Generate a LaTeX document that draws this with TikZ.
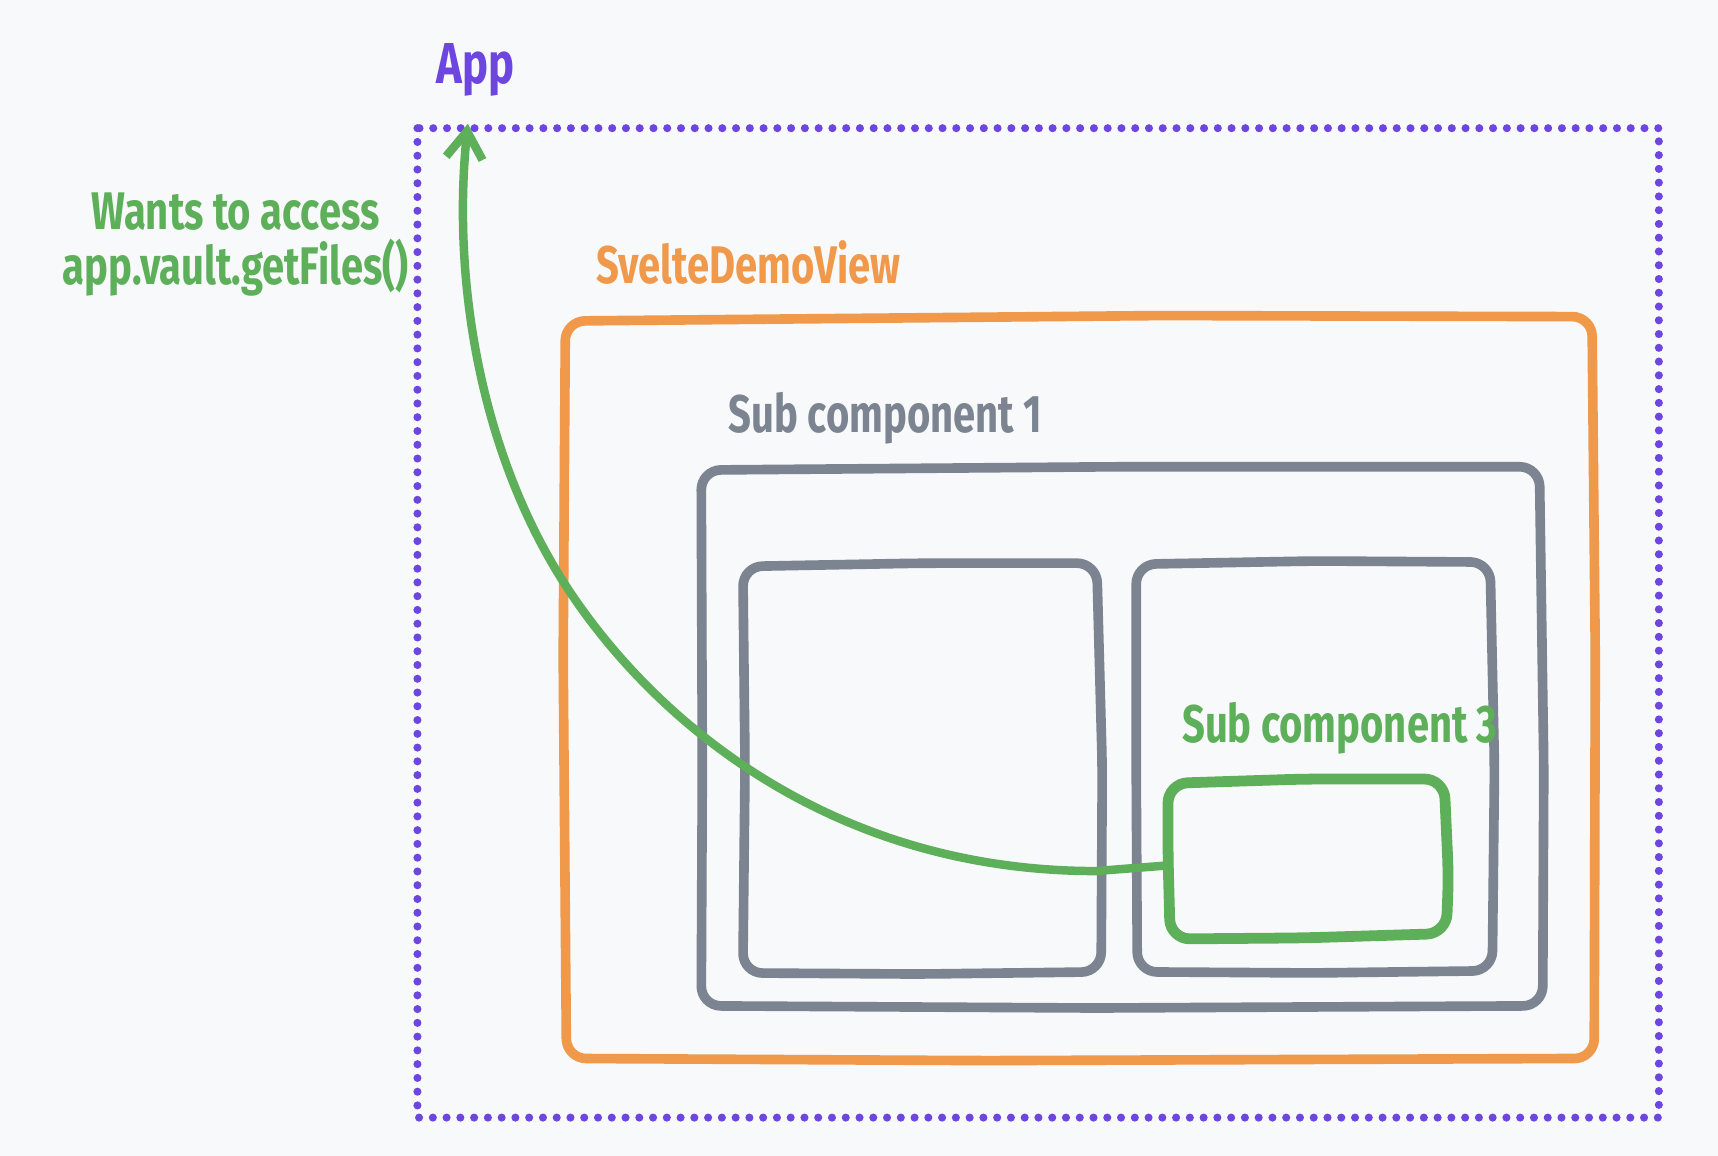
\documentclass[tikz,border=0pt]{standalone}
\usepackage{fontspec}
\setmainfont{Fira Sans}[FakeStretch=0.755]
\usetikzlibrary{arrows.meta}
\definecolor{bgc}{HTML}{F8F9FA}
\definecolor{appc}{HTML}{6D46E0}
\definecolor{grnc}{HTML}{5DAF5A}
\definecolor{orgc}{HTML}{F0994B}
\definecolor{gryc}{HTML}{7B8490}
\tikzset{
  sketch/.style={line width=5pt, rounded corners=0.36cm, line join=round, line cap=round},
  orangebox/.style={sketch, draw=orgc},
  graybox/.style={sketch, draw=gryc},
  greenbox/.style={sketch, draw=grnc, line width=5.6pt},
  dotbox/.style={draw=appc, line width=4.2pt, line cap=round, dash pattern=on 0pt off 7.15pt},
  lbl/.style={font=\bfseries\fontsize{27.5}{30}\selectfont, inner sep=0pt},
  access/.style={draw=grnc, line width=4.4pt, line cap=round, -{Straight Barb[length=14pt,width=19pt,line width=4.4pt]}},
}
\begin{document}
\begin{tikzpicture}[x=0.02cm,y=-0.02cm]
\fill[bgc] (0,0) rectangle (1568,1055);
\useasboundingbox (0,0) rectangle (1568,1055);
% App
\draw[dotbox] (381,117) rectangle (1514,1020);
\node[lbl, text=appc, font=\bfseries\fontsize{30}{32}\selectfont] (applbl) at (434,64) {App};
% SvelteDemoView
\draw[orangebox] (516,293) -- (1060,288) -- (1453,289) -- (1456,600) -- (1455,966) -- (900,968) -- (517,966) -- (514,600) -- cycle;
\node[lbl, text=orgc] (svlbl) at (683,240) {SvelteDemoView};
% Sub component 1
\draw[graybox] (640,429) -- (1020,426) -- (1405,426) -- (1409,700) -- (1408,918) -- (1000,920) -- (640,918) -- (641,700) -- cycle;
\node[lbl, text=gryc] (sc1lbl) at (808,382) {Sub component 1};
\draw[graybox] (678,517) -- (840,514) -- (1001,514) -- (1006,700) -- (1005,887) -- (840,889) -- (678,888) -- (680,700) -- cycle;
\draw[graybox] (1037,515) -- (1200,512) -- (1360,513) -- (1364,700) -- (1362,886) -- (1200,888) -- (1038,887) -- (1037,700) -- cycle;
% Sub component 3
\draw[greenbox] (1066,715) -- (1190,711) -- (1318,711) -- (1322,800) -- (1320,852) -- (1190,856) -- (1068,857) -- (1066,780) -- cycle;
\node[lbl, text=grnc] (sc3lbl) at (1223,665) {Sub component 3};
% arrow
\coordinate (sc3w) at (1064,790);
\coordinate (apptop) at (427,113);
\draw[access] (sc3w) -- (1000,795) .. controls (760,795) and (600,660) .. (520,540) .. controls (440,420) and (412,260) .. (apptop);
\node[lbl, text=grnc, align=center, font=\bfseries\fontsize{27.5}{28.5}\selectfont] (note) at (215,223) {Wants to access\\app.vault.getFiles()};
\end{tikzpicture}
\end{document}
